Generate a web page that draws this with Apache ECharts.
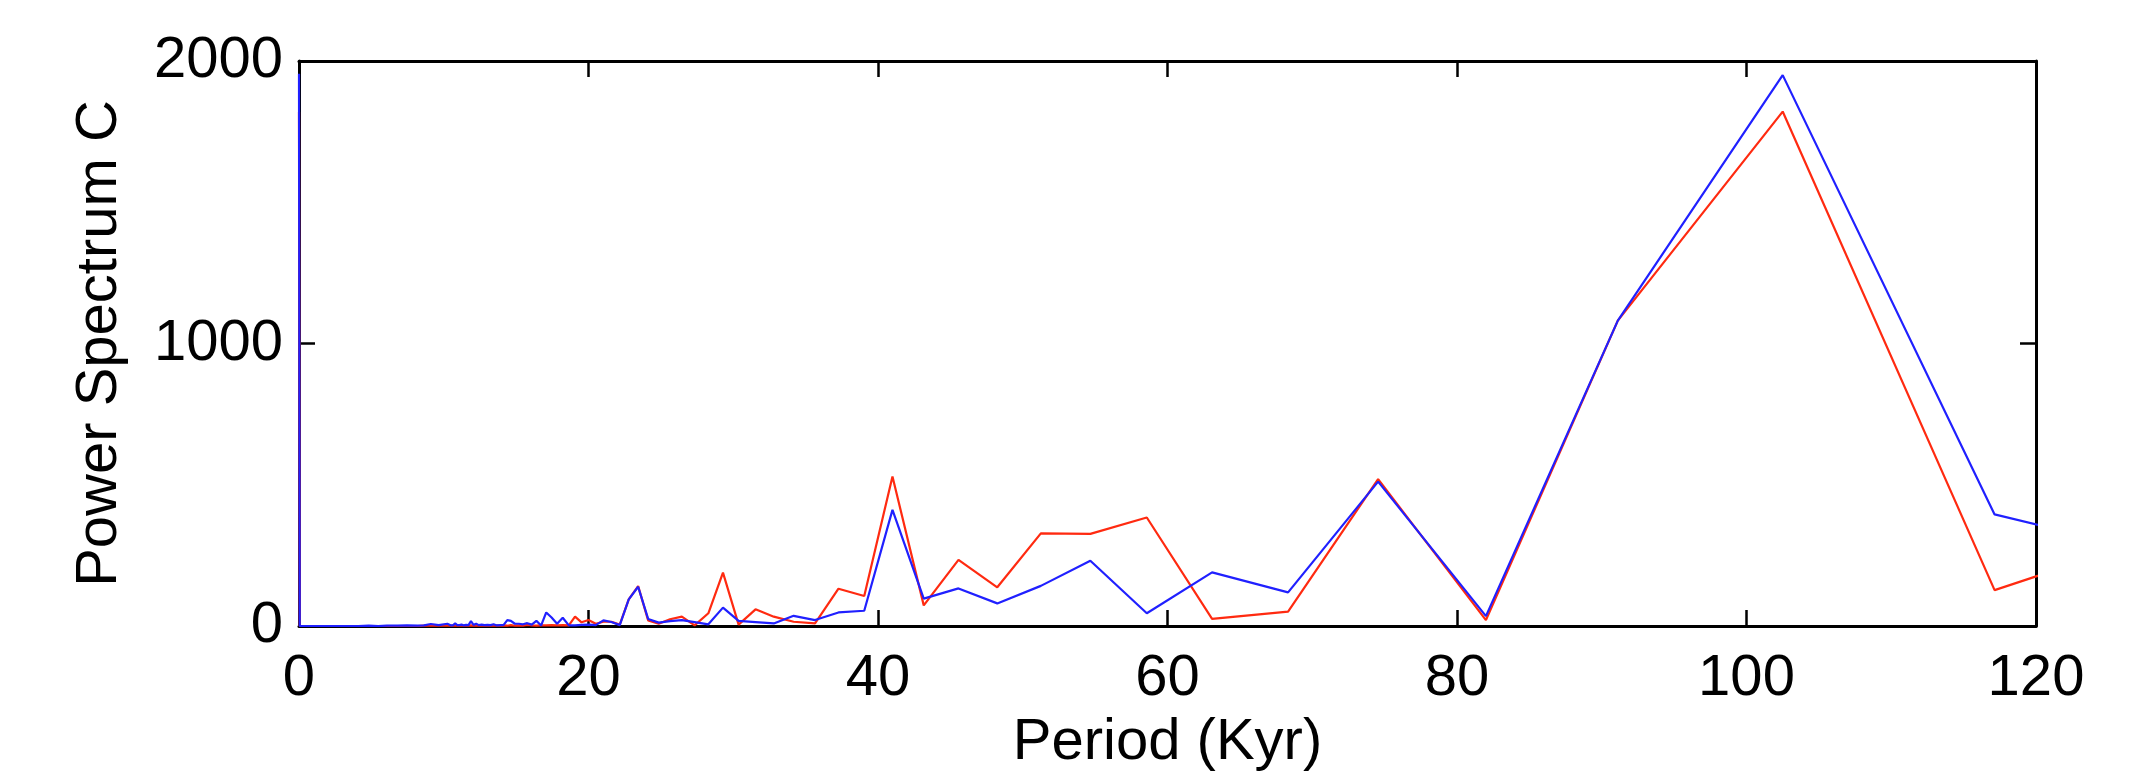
<!DOCTYPE html>
<html>
<head>
<meta charset="utf-8">
<script src="https://cdn.jsdelivr.net/npm/echarts@6/dist/echarts.min.js"></script>
<style>
html,body{margin:0;padding:0;background:#fff;}
#chart{width:2144px;height:781px;}
</style>
</head>
<body>
<div id="chart"></div>
<script>
// Period (Kyr) of each spectral estimate
const periods = [
  136.67, 117.14, 102.5, 91.11, 82.0, 74.55, 68.33, 63.08, 58.57, 54.67,
  51.25, 48.24, 45.56, 43.16, 41.0, 39.05, 37.27, 35.65, 34.17, 32.8,
  31.54, 30.37, 29.29, 28.28, 27.33, 26.45, 25.63, 24.85, 24.12, 23.43,
  22.78, 22.16, 21.58, 21.03, 20.5, 20.0, 19.52, 19.07, 18.64, 18.22,
  17.83, 17.45, 17.08, 16.73, 16.4, 16.08, 15.77, 15.47, 15.19, 14.91,
  14.64, 14.39, 14.14, 13.9, 13.67, 13.44, 13.23, 13.02, 12.81, 12.62,
  12.42, 12.24, 12.06, 11.88, 11.71, 11.55, 11.39, 11.23, 11.08, 10.93,
  10.79, 10.65, 10.51, 10.38, 10.25, 9.65, 9.11, 8.63, 8.2, 7.45,
  6.83, 6.07, 5.47, 4.82, 4.1, 3.28, 2.73, 2.05, 1.0, 0.05, 0
];
// Red series power
const redPower = [
  458, 127, 1821, 1081, 21, 520, 51, 25, 384, 326,
  328, 137, 234, 73, 529, 106, 132, 9, 15, 33,
  59, 5, 189, 45, 2, 33, 24, 8, 20, 141,
  94, 5, 15, 15, 8, 21, 13, 33, 2, 3,
  2, 3, 2, 2, 1, 2, 4, 1, 2, 1,
  3, 1, 2, 1, 2, 1, 2, 1, 1, 2,
  1, 1, 1, 2, 1, 1, 1, 1, 1, 1,
  1, 1, 1, 1, 1, 1, 1, 1, 0, 0,
  0, 0, 0, 0, 0, 0, 0, 0, 0, 0, 1820
];
// Blue series power
const bluePower = [
  152, 395, 1950, 1081, 35, 511, 119, 190, 45, 231,
  142, 80, 133, 97, 411, 54, 48, 21, 36, 9,
  14, 18, 65, 6, 14, 21, 17, 12, 25, 139,
  94, 3, 14, 20, 3, 5, 4, 2, 2, 29,
  8, 30, 48, 2, 18, 5, 10, 6, 8, 8,
  18, 21, 4, 3, 2, 6, 3, 4, 3, 5,
  3, 8, 4, 17, 3, 4, 2, 5, 3, 3,
  9, 3, 2, 3, 8, 3, 7, 2, 1, 2,
  1, 1, 0, 1, 0, 0, 0, 0, 0, 0, 1955
];
const xTicks = [0, 20, 40, 60, 80, 100, 120];
const yTicks = [0, 1000, 2000];

const FONT = "'Liberation Sans', Arial, Helvetica, sans-serif";
const FS = 58;

const redData = periods.map((p, i) => [p, redPower[i]]);
const blueData = periods.map((p, i) => [p, bluePower[i]]);

const xStep = xTicks[1] - xTicks[0];
const yStep = yTicks[1] - yTicks[0];

const axisLineStyle = { color: '#000', width: 3 };
const tickStyle = { color: '#000', width: 2.5 };
const plain = v => String(v);

const chart = echarts.init(document.getElementById('chart'), null, { renderer: 'canvas' });
chart.setOption({
  animation: false,
  backgroundColor: '#fff',
  grid: { left: 299, right: 108, top: 61, bottom: 155, containLabel: false },
  xAxis: [
    {
      type: 'value', position: 'bottom',
      min: xTicks[0], max: xTicks[xTicks.length - 1], interval: xStep,
      axisLine: { show: true, onZero: false, lineStyle: axisLineStyle },
      axisTick: { show: true, inside: true, length: 16, lineStyle: tickStyle },
      axisLabel: { show: true, color: '#000', fontSize: FS, fontFamily: FONT, margin: 24, formatter: plain },
      splitLine: { show: false },
      name: 'Period (Kyr)', nameLocation: 'middle', nameGap: 88,
      nameTextStyle: { color: '#000', fontSize: FS, fontFamily: FONT }
    },
    {
      type: 'value', position: 'top',
      min: xTicks[0], max: xTicks[xTicks.length - 1], interval: xStep,
      axisLine: { show: true, onZero: false, lineStyle: axisLineStyle },
      axisTick: { show: true, inside: true, length: 16, lineStyle: tickStyle },
      axisLabel: { show: false },
      splitLine: { show: false }
    }
  ],
  yAxis: [
    {
      type: 'value', position: 'left',
      min: yTicks[0], max: yTicks[yTicks.length - 1], interval: yStep,
      axisLine: { show: true, onZero: false, lineStyle: axisLineStyle },
      axisTick: { show: true, inside: true, length: 16, lineStyle: tickStyle },
      axisLabel: { show: true, color: '#000', fontSize: FS, fontFamily: FONT, margin: 16, formatter: plain },
      splitLine: { show: false },
      name: 'Power Spectrum C', nameLocation: 'middle', nameGap: 170,
      nameTextStyle: { color: '#000', fontSize: FS, fontFamily: FONT }
    },
    {
      type: 'value', position: 'right',
      min: yTicks[0], max: yTicks[yTicks.length - 1], interval: yStep,
      axisLine: { show: true, onZero: false, lineStyle: axisLineStyle },
      axisTick: { show: true, inside: true, length: 16, lineStyle: tickStyle },
      axisLabel: { show: false },
      splitLine: { show: false }
    }
  ],
  series: [
    {
      type: 'line', xAxisIndex: 0, yAxisIndex: 0, data: redData,
      showSymbol: false, clip: true,
      lineStyle: { color: '#ff2a10', width: 2.2 }, itemStyle: { color: '#ff2a10' }
    },
    {
      type: 'line', xAxisIndex: 0, yAxisIndex: 0, data: blueData,
      showSymbol: false, clip: true,
      lineStyle: { color: '#2020ff', width: 2.2 }, itemStyle: { color: '#2020ff' }
    }
  ]
});
</script>
</body>
</html>
